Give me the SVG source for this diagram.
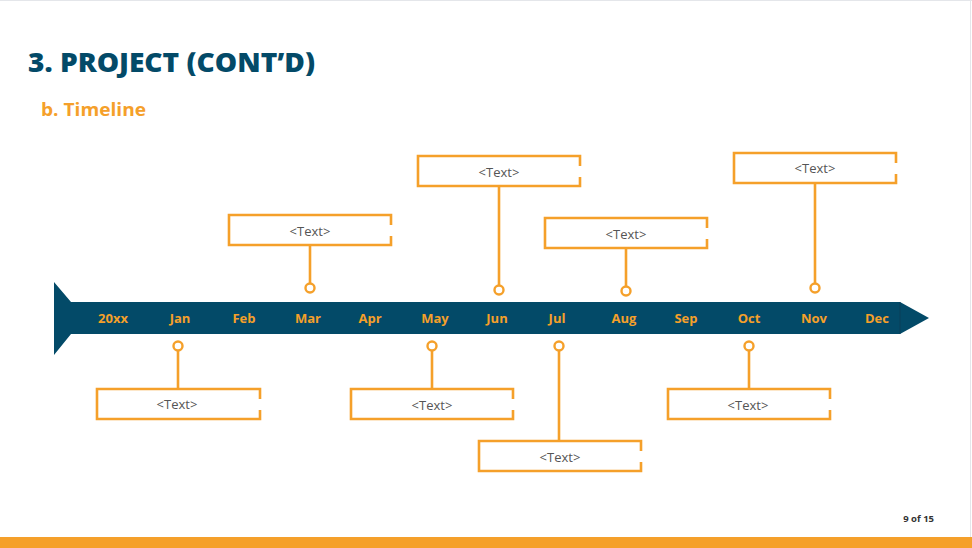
<svg xmlns="http://www.w3.org/2000/svg" width="972" height="548" viewBox="0 0 972 548">
<style>
.box{fill:none;stroke:#F5A02A;stroke-width:2.6}
.stem{stroke:#F5A02A;stroke-width:2.6;fill:none}
.dot{fill:#fff;stroke:#F5A02A;stroke-width:2.4}
.bt{font-family:"Open Sans","Liberation Sans",sans-serif;font-size:13px;fill:#555;text-anchor:middle}
.mo{font-family:"Open Sans","Liberation Sans",sans-serif;font-size:13px;font-weight:bold;fill:#F5A02A;text-anchor:middle}
</style>
<rect width="972" height="548" fill="#fff"/>
<line x1="0" y1="0.5" x2="972" y2="0.5" stroke="#e4e6ea"/>
<line x1="970.5" y1="0" x2="970.5" y2="537" stroke="#e4e6ea"/>
<rect x="0" y="537" width="972" height="11" fill="#F5A02A"/>
<text x="28" y="72" font-family="Open Sans,Liberation Sans,sans-serif" font-size="26" font-weight="800" fill="#034A68" textLength="287" lengthAdjust="spacingAndGlyphs">3. PROJECT (CONT’D)</text>
<text x="41" y="116" font-family="Open Sans,Liberation Sans,sans-serif" font-size="17" font-weight="bold" fill="#F5A02A" textLength="105" lengthAdjust="spacingAndGlyphs">b. Timeline</text>
<text x="934" y="522" font-family="Open Sans,Liberation Sans,sans-serif" font-size="9.5" font-weight="bold" fill="#333" text-anchor="end">9 of 15</text>
<g id="timeline-arrow">
<polygon points="54,282 71,302 900,302 900,334 71,334 54,355" fill="#034A68"/>
<polygon points="900,302 929,318 900,334" fill="#034A68"/>
<line x1="900" y1="302" x2="900" y2="334" stroke="#0a3f58" stroke-width="1"/>
<text class="mo" x="113" y="323">20xx</text>
<text class="mo" x="180" y="323">Jan</text>
<text class="mo" x="244" y="323">Feb</text>
<text class="mo" x="308" y="323">Mar</text>
<text class="mo" x="370" y="323">Apr</text>
<text class="mo" x="435" y="323">May</text>
<text class="mo" x="497" y="323">Jun</text>
<text class="mo" x="557" y="323">Jul</text>
<text class="mo" x="624" y="323">Aug</text>
<text class="mo" x="686" y="323">Sep</text>
<text class="mo" x="749" y="323">Oct</text>
<text class="mo" x="814" y="323">Nov</text>
<text class="mo" x="877" y="323">Dec</text>
</g>
<g id="connectors">
<line class="stem" x1="178" y1="351" x2="178" y2="389"/>
<line class="stem" x1="310" y1="245" x2="310" y2="283"/>
<line class="stem" x1="432" y1="351" x2="432" y2="389"/>
<line class="stem" x1="499" y1="186" x2="499" y2="285"/>
<line class="stem" x1="559" y1="351" x2="559" y2="441"/>
<line class="stem" x1="626" y1="248" x2="626" y2="286"/>
<line class="stem" x1="749" y1="351" x2="749" y2="389"/>
<line class="stem" x1="815" y1="183" x2="815" y2="283"/>
<circle class="dot" cx="178" cy="346" r="4.5"/>
<circle class="dot" cx="310" cy="288" r="4.5"/>
<circle class="dot" cx="432" cy="346" r="4.5"/>
<circle class="dot" cx="499" cy="290" r="4.5"/>
<circle class="dot" cx="559" cy="346" r="4.5"/>
<circle class="dot" cx="626" cy="291" r="4.5"/>
<circle class="dot" cx="749" cy="346" r="4.5"/>
<circle class="dot" cx="815" cy="288" r="4.5"/>
</g>
<g id="box-jan"><path class="box" d="M260,399 V389 H97 V419 H260 V410"/><text class="bt" x="177" y="409">&lt;Text&gt;</text></g>
<g id="box-mar"><path class="box" d="M391,225 V215 H229 V245 H391 V236"/><text class="bt" x="310" y="236">&lt;Text&gt;</text></g>
<g id="box-may"><path class="box" d="M513,399 V389 H351 V419 H513 V410"/><text class="bt" x="432" y="410">&lt;Text&gt;</text></g>
<g id="box-jun"><path class="box" d="M580,166 V156 H418 V186 H580 V177"/><text class="bt" x="499" y="177">&lt;Text&gt;</text></g>
<g id="box-jul"><path class="box" d="M641,451 V441 H479 V471 H641 V462"/><text class="bt" x="560" y="462">&lt;Text&gt;</text></g>
<g id="box-aug"><path class="box" d="M707,228 V218 H545 V248 H707 V239"/><text class="bt" x="626" y="239">&lt;Text&gt;</text></g>
<g id="box-oct"><path class="box" d="M830,399 V389 H668 V419 H830 V410"/><text class="bt" x="748" y="410">&lt;Text&gt;</text></g>
<g id="box-nov"><path class="box" d="M896,163 V153 H734 V183 H896 V174"/><text class="bt" x="815" y="173">&lt;Text&gt;</text></g>
</svg>
